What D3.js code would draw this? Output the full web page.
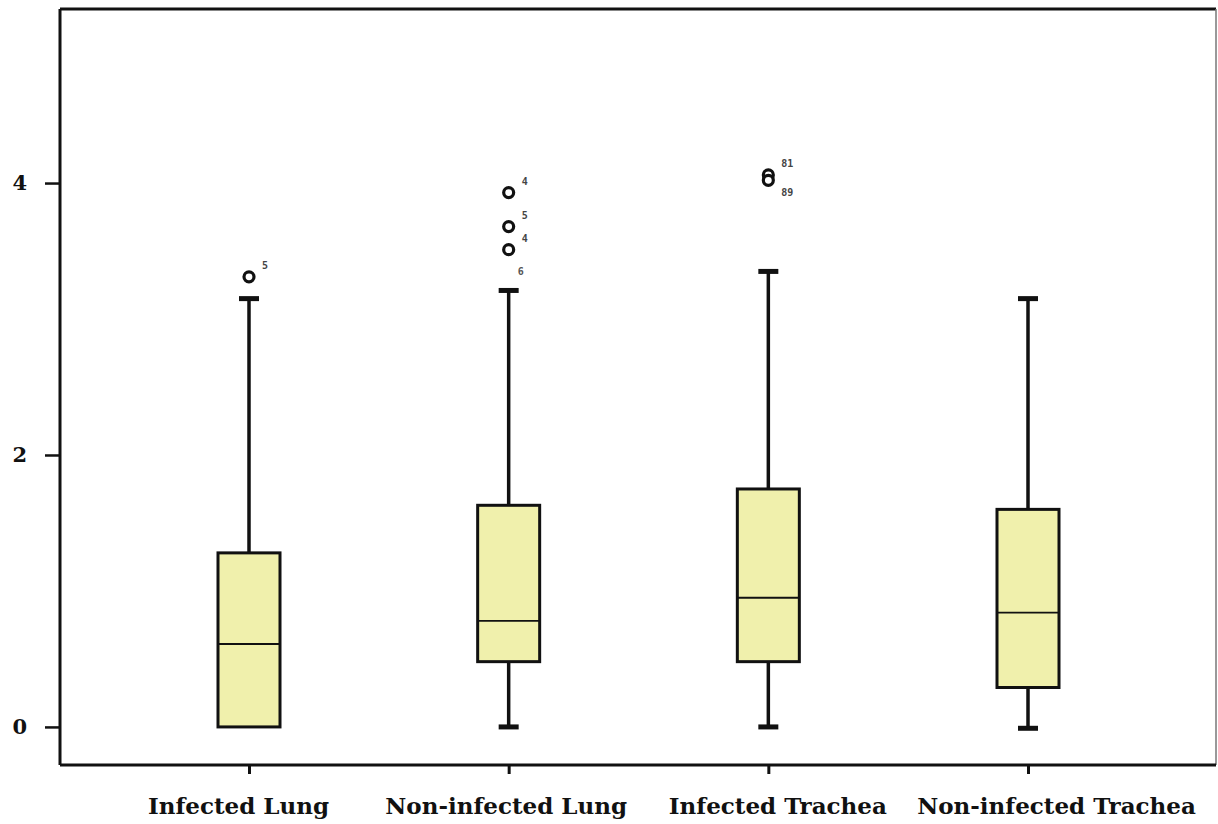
<!DOCTYPE html>
<html><head><meta charset="utf-8">
<script src="https://cdn.jsdelivr.net/npm/d3@7"></script>
<style>html,body{margin:0;padding:0;background:#fff;}</style>
</head><body>
<svg id="c" width="1218" height="824"></svg>
<script>
const categories = ["Infected Lung", "Non-infected Lung", "Infected Trachea", "Non-infected Trachea"];
const whiskerLow  = [0.00, 0.00, 0.00, -0.01];
const q1          = [0.00, 0.48, 0.48, 0.29];
const medians     = [0.61, 0.78, 0.95, 0.84];
const q3          = [1.28, 1.63, 1.75, 1.60];
const whiskerHigh = [3.15, 3.21, 3.35, 3.15];
// outliers: category index, value, label
const outlierCat   = [0, 1, 1, 1, 2, 2];
const outlierVal   = [3.31, 3.93, 3.68, 3.51, 4.06, 4.02];
const outlierLabel = ["5", "4", "5", "4", "81", "89"];
const extraLabelCat = [1];
const extraLabelVal = [3.35];
const extraLabelTxt = ["6"];
const yTicks = [0, 2, 4];

(function () {
const svg = d3.select("#c");
const mL = 60, mR = 1216, mT = 9, mB = 765;

const y = d3.scaleLinear().domain([-0.28, 5.28]).range([mB, mT]);
const x = d3.scalePoint().domain(categories).range([249, 1028]);
const boxW = 62;

// frame
svg.append("line").attr("x1", mL).attr("x2", mR).attr("y1", mT).attr("y2", mT)
  .attr("stroke", "#111").attr("stroke-width", 3);
svg.append("line").attr("x1", mR).attr("x2", mR).attr("y1", mT).attr("y2", mB)
  .attr("stroke", "#777").attr("stroke-width", 1.5);

// y axis
const yAxis = d3.axisLeft(y).tickValues(yTicks).tickSize(15).tickPadding(18).tickFormat(d3.format("d"));
const gy = svg.append("g").attr("transform", `translate(${mL},0)`).call(yAxis);
gy.select(".domain").attr("d", `M0,${mT}V${mB}`).attr("stroke", "#111").attr("stroke-width", 3);
gy.selectAll(".tick line").attr("stroke", "#111").attr("stroke-width", 2.5);
gy.selectAll(".tick text").attr("font-family", "DejaVu Serif").attr("font-size", 21)
  .attr("font-weight", "bold").attr("fill", "#111");

// x axis
const xAxis = d3.axisBottom(x).tickSize(9).tickPadding(24);
const gx = svg.append("g").attr("transform", `translate(0,${mB})`).call(xAxis);
gx.select(".domain").attr("d", `M${mL},0H${mR}`).attr("stroke", "#111").attr("stroke-width", 3);
gx.selectAll(".tick line").attr("stroke", "#111").attr("stroke-width", 3);
gx.selectAll(".tick text").attr("font-family", "DejaVu Serif").attr("font-size", 23)
  .attr("fill", "#111").attr("font-weight", "bold").attr("dx", (d, i) => [-11, -3, 9, 28][i]);

// boxes
const g = svg.append("g");
categories.forEach((c, i) => {
  const cx = x(c);
  g.append("line").attr("x1", cx).attr("x2", cx).attr("y1", y(q3[i])).attr("y2", y(whiskerHigh[i]))
    .attr("stroke", "#111").attr("stroke-width", 3.5);
  g.append("line").attr("x1", cx).attr("x2", cx).attr("y1", y(q1[i])).attr("y2", y(whiskerLow[i]))
    .attr("stroke", "#111").attr("stroke-width", 3.5);
  g.append("line").attr("x1", cx - 10).attr("x2", cx + 10).attr("y1", y(whiskerHigh[i])).attr("y2", y(whiskerHigh[i]))
    .attr("stroke", "#111").attr("stroke-width", 5);
  if (whiskerLow[i] < q1[i]) {
    g.append("line").attr("x1", cx - 10).attr("x2", cx + 10).attr("y1", y(whiskerLow[i])).attr("y2", y(whiskerLow[i]))
      .attr("stroke", "#111").attr("stroke-width", 5);
  }
  g.append("rect").attr("x", cx - boxW / 2).attr("width", boxW)
    .attr("y", y(q3[i])).attr("height", y(q1[i]) - y(q3[i]))
    .attr("fill", "#f0f0ac").attr("stroke", "#111").attr("stroke-width", 3);
  g.append("line").attr("x1", cx - boxW / 2).attr("x2", cx + boxW / 2).attr("y1", y(medians[i])).attr("y2", y(medians[i]))
    .attr("stroke", "#111").attr("stroke-width", 1.8);
});

// outliers
outlierVal.forEach((v, k) => {
  const cx = x(categories[outlierCat[k]]);
  g.append("circle").attr("cx", cx).attr("cy", y(v)).attr("r", 5)
    .attr("fill", "#fff").attr("stroke", "#111").attr("stroke-width", 3.2);
  g.append("text").attr("x", cx + 13).attr("y", y(v) - 8 + (k === 5 ? 24 : 0))
    .attr("font-family", "DejaVu Sans Mono").attr("font-size", 10).attr("font-weight", "bold")
    .attr("fill", "#444").text(outlierLabel[k]);
});
extraLabelVal.forEach((v, k) => {
  const cx = x(categories[extraLabelCat[k]]);
  g.append("text").attr("x", cx + 9).attr("y", y(v) + 4)
    .attr("font-family", "DejaVu Sans Mono").attr("font-size", 10).attr("font-weight", "bold")
    .attr("fill", "#555").text(extraLabelTxt[k]);
});
})();
</script>
</body></html>
